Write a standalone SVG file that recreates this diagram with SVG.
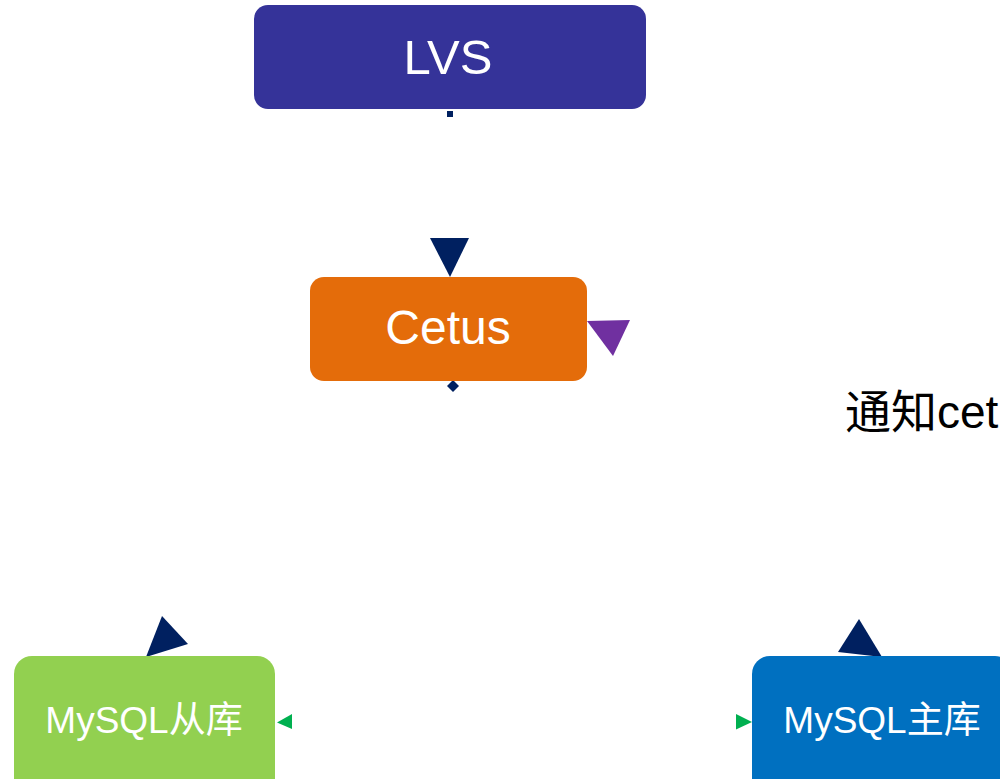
<svg xmlns="http://www.w3.org/2000/svg" width="1000" height="779" viewBox="0 0 1000 779">
<style>
.lbl{font-family:"Liberation Sans","Noto Sans CJK SC",Arial,sans-serif;fill:#fff;text-anchor:middle}
.big{font-size:48px}
.mid{font-size:37px}
.note{font-family:"Liberation Sans","Noto Sans CJK SC",Arial,sans-serif;font-size:46px;fill:#000}
.navy{fill:#002060}
</style>
<rect width="1000" height="779" fill="#fff"/>
<g id="connectors">
<rect class="navy" x="447" y="111" width="6" height="6"/>
<polygon class="navy" points="430,238 469,238 450,277"/>
<polygon fill="#7030A0" points="587,321 630,320 613,356"/>
<polygon class="navy" points="453,380 459,386 453,392 447,386"/>
<polygon class="navy" points="146,657 162,616 188,644"/>
<polygon fill="#00B050" points="277,722.5 292,714 292,729"/>
<polygon class="navy" points="838,652 859,619 882,657"/>
<polygon fill="#00B050" points="752,722 736,714 736,729.5"/>
</g>
<g id="lvs">
<rect x="254" y="5" width="392" height="104" rx="14" fill="#353399"/>
<text class="lbl" x="448" y="74" font-size="49">LVS</text>
</g>
<g id="cetus">
<rect x="310" y="277" width="277" height="104" rx="14" fill="#E46C0A"/>
<text class="lbl big" x="448" y="344">Cetus</text>
</g>
<g id="note">
<text class="note" x="845" y="428">通知cet</text>
</g>
<g id="slave">
<rect x="14" y="656" width="261" height="140" rx="18" fill="#92D050"/>
<text class="lbl mid" x="144" y="733">MySQL从库</text>
</g>
<g id="master">
<rect x="752" y="656" width="261" height="140" rx="18" fill="#0070C0"/>
<text class="lbl mid" x="882" y="733">MySQL主库</text>
</g>
</svg>
